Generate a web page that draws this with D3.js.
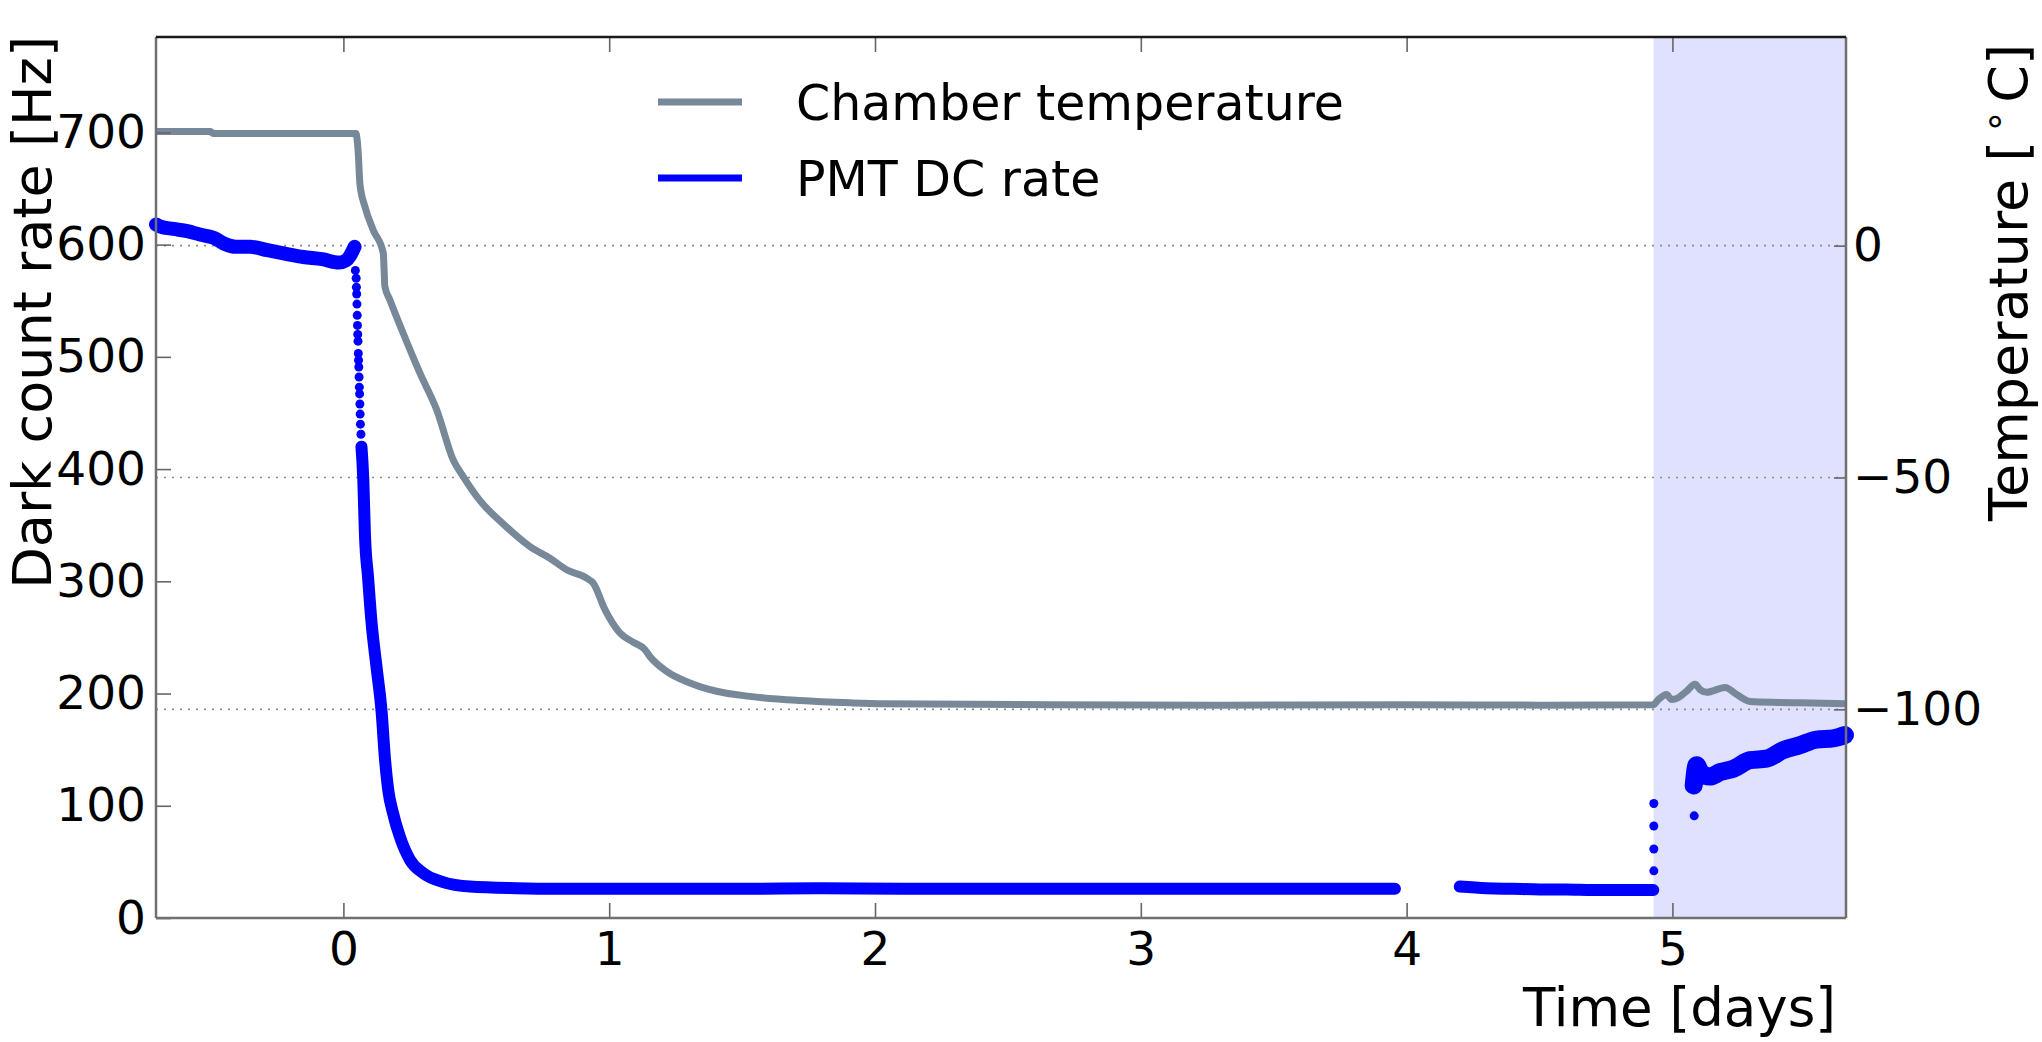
<!DOCTYPE html>
<html>
<head>
<meta charset="utf-8">
<script src="https://cdn.jsdelivr.net/npm/d3@7"></script>
<style>
body { margin: 0; background: #fff; }
text { font-family: "DejaVu Sans", sans-serif; fill: #000; }
</style>
</head>
<body>
<svg id="chart"></svg>
<script>
var viewWidth = 2042;
var viewHeight = 1042;

var margin = {top: 37, right: 196, bottom: 124, left: 156};
var width = viewWidth - margin.left - margin.right;
var height = viewHeight - margin.top - margin.bottom;

// chamber temperature (right axis), days / deg C
var tempDays = [-0.705, -0.5, -0.49, 0.047, 0.056, 0.062, 0.081, 0.112, 0.150, 0.153, 0.156, 0.175,
  0.225, 0.288, 0.351, 0.413, 0.451, 0.514, 0.601, 0.702, 0.777, 0.840, 0.915, 0.940, 0.984, 1.040,
  1.090, 1.134, 1.153, 1.216, 1.304, 1.404, 1.529, 1.717, 1.906, 2.03, 2.66, 3.3, 4.0, 4.5, 4.928,
  4.947, 4.978, 4.997, 5.022, 5.053, 5.085, 5.105, 5.129, 5.198, 5.242, 5.292, 5.40, 5.480, 5.652];
var tempC = [24.6, 24.6, 24.2, 24.2, 19.9, 13.4, 8.4, 3.4, -1.6, -5.0, -8.8, -11.7,
  -18.9, -27.5, -35.4, -46.2, -49.8, -55.0, -60.0, -64.9, -67.4, -69.9, -71.7, -72.8, -78.5, -83.5,
  -85.5, -87.1, -88.6, -91.8, -94.3, -96.1, -97.2, -98.1, -98.6, -98.8, -99.0, -99.1, -99.0, -99.1, -99.0,
  -97.9, -96.8, -97.9, -97.5, -96.1, -94.6, -95.8, -96.3, -95.3, -96.8, -98.3, -98.5, -98.6, -98.8];

// PMT dark count rate (left axis), days / Hz
var preDropDays = [-0.705, -0.688, -0.64, -0.587, -0.54, -0.487, -0.45, -0.403, -0.35, -0.285, -0.22,
  -0.151, -0.08, -0.017, 0.01, 0.025, 0.034, 0.042];
var preDropHz = [618, 616, 614, 612, 609, 606, 601, 598, 598, 595, 592, 589, 587, 584, 586, 590, 594, 598];

var dropDotDays = [0.045, 0.048, 0.049, 0.050, 0.051, 0.052, 0.053, 0.054, 0.055, 0.056, 0.057, 0.058,
  0.059, 0.060, 0.061, 0.062, 0.063, 0.064, 0.066];
var dropDotHz = [577, 570, 562, 556, 547, 537, 528, 520, 514, 503, 497, 491, 482, 473, 467, 458, 449, 440, 431];

var coolDays = [0.068, 0.075, 0.081, 0.093, 0.106, 0.125, 0.144, 0.156, 0.170, 0.185, 0.213, 0.250,
  0.300, 0.375, 0.476, 0.652, 0.8, 1.0, 1.2, 1.5, 1.8, 2.1, 2.4, 2.7, 3.0, 3.3, 3.6, 3.9, 3.956];
var coolHz = [420, 390, 342, 303, 263, 223, 183, 143, 112, 95, 72, 52,
  40, 32, 28, 26.5, 26, 26, 26, 26, 26.5, 26, 26, 26, 26, 26, 26, 26, 26];

var lateDays = [4.20, 4.3, 4.4, 4.5, 4.6, 4.7, 4.8, 4.9, 4.928];
var lateHz = [28, 26.5, 26, 25.5, 25.5, 25, 25, 25, 25];

var jumpDotDays = [4.930, 4.930, 4.930, 4.930, 5.076, 5.082];
var jumpDotHz = [42, 61.5, 82, 102, 120, 91];

var warmDays = [5.080, 5.091, 5.105, 5.141, 5.18, 5.229, 5.292, 5.354, 5.417, 5.480, 5.542, 5.605, 5.649];
var warmHz = [118, 136, 130, 126, 130, 133, 140.6, 142, 149.5, 154, 159, 160, 163];

var shadeStart = 4.929;
var xTicks = [0, 1, 2, 3, 4, 5];
var rateTicks = [0, 100, 200, 300, 400, 500, 600, 700];
var tempTicks = [0, -50, -100];

var svg = d3.select("#chart")
    .attr("width", viewWidth)
    .attr("height", viewHeight);

var g = svg.append("g")
    .attr("transform", "translate(" + margin.left + "," + margin.top + ")");

var x = d3.scaleLinear().domain([-0.705, 5.653]).range([0, width]);
var yRate = d3.scaleLinear().domain([0, 785]).range([height, 0]);
var yTemp = d3.scaleLinear().domain([-145, 45]).range([height, 0]);

// shaded period
g.append("rect")
    .attr("x", x(shadeStart))
    .attr("y", 0)
    .attr("width", x.range()[1] - x(shadeStart))
    .attr("height", height)
    .style("fill", "rgba(0,0,255,0.12)");

// dotted grid from the temperature axis
g.selectAll(".grid")
    .data(tempTicks)
  .enter().append("line")
    .attr("class", "grid")
    .attr("x1", 0)
    .attr("x2", width)
    .attr("y1", function(d) { return yTemp(d); })
    .attr("y2", function(d) { return yTemp(d); })
    .style("stroke", "#8a8a8a")
    .style("stroke-width", 1.6)
    .style("stroke-dasharray", "2,6");

function zip(a, b) { return a.map(function(d, i) { return [d, b[i]]; }); }

var rateLine = d3.line()
    .curve(d3.curveMonotoneX)
    .x(function(d) { return x(d[0]); })
    .y(function(d) { return yRate(d[1]); });

var rateSegs = [
  {pts: zip(preDropDays, preDropHz), w: 14},
  {pts: zip(coolDays, coolHz), w: 12},
  {pts: zip(lateDays, lateHz), w: 12},
  {pts: zip(warmDays, warmHz), w: 18}
];

g.selectAll(".rate")
    .data(rateSegs)
  .enter().append("path")
    .attr("class", "rate")
    .attr("d", function(d) { return rateLine(d.pts); })
    .style("fill", "none")
    .style("stroke", "#0000ff")
    .style("stroke-width", function(d) { return d.w; })
    .style("stroke-linecap", "round")
    .style("stroke-linejoin", "round");

g.selectAll(".dot")
    .data(zip(dropDotDays, dropDotHz).concat(zip(jumpDotDays, jumpDotHz)))
  .enter().append("circle")
    .attr("class", "dot")
    .attr("r", 4.5)
    .attr("cx", function(d) { return x(d[0]); })
    .attr("cy", function(d) { return yRate(d[1]); })
    .style("fill", "#0000ff");

var tempLine = d3.line()
    .curve(d3.curveMonotoneX)
    .x(function(d) { return x(d[0]); })
    .y(function(d) { return yTemp(d[1]); });

g.append("path")
    .attr("d", tempLine(zip(tempDays, tempC)))
    .style("fill", "none")
    .style("stroke", "#778899")
    .style("stroke-width", 7)
    .style("stroke-linejoin", "round");

// axes, ticks pointing inward
var tickFont = 47;

g.append("g")
    .attr("class", "axis")
    .attr("transform", "translate(0," + height + ")")
    .call(d3.axisBottom(x).tickValues(xTicks).tickFormat(d3.format("d")).tickSize(-15).tickPadding(14));

g.append("g")
    .attr("class", "axis")
    .call(d3.axisTop(x).tickValues(xTicks).tickFormat("").tickSize(-15));

g.append("g")
    .attr("class", "axis")
    .call(d3.axisLeft(yRate).tickValues(rateTicks).tickFormat(d3.format("d")).tickSize(-15).tickPadding(10));

g.append("g")
    .attr("class", "axis")
    .attr("transform", "translate(" + width + ",0)")
    .call(d3.axisRight(yTemp).tickValues(tempTicks).tickFormat(d3.format("d")).tickSize(-12).tickPadding(7));

g.selectAll(".axis .domain").remove();
g.selectAll(".axis line").style("stroke", "#666").style("stroke-width", 1.6);
g.selectAll(".axis text")
    .style("font-family", "'DejaVu Sans', sans-serif")
    .style("font-size", tickFont + "px")
    .style("fill", "#000");

// spines
g.append("line").attr("x1", 0).attr("x2", 0).attr("y1", 0).attr("y2", height)
    .style("stroke", "#707070").style("stroke-width", 2.5);
g.append("line").attr("x1", width).attr("x2", width).attr("y1", 0).attr("y2", height)
    .style("stroke", "#707070").style("stroke-width", 2.5);
g.append("line").attr("x1", 0).attr("x2", width).attr("y1", height).attr("y2", height)
    .style("stroke", "#707070").style("stroke-width", 2.5);
g.append("line").attr("x1", 0).attr("x2", width).attr("y1", 0).attr("y2", 0)
    .style("stroke", "#1a1a1a").style("stroke-width", 2.5);

// axis labels
svg.append("text")
    .attr("x", 1836)
    .attr("y", 1026)
    .style("text-anchor", "end")
    .style("font-size", "53px")
    .text("Time [days]");

svg.append("text")
    .attr("transform", "translate(51,36) rotate(-90)")
    .style("text-anchor", "end")
    .style("font-size", "54px")
    .text("Dark count rate [Hz]");

var tLabel = svg.append("text")
    .attr("transform", "translate(2027,44) rotate(-90)")
    .style("text-anchor", "end")
    .style("font-size", "54px");
tLabel.append("tspan").text("Temperature [");
tLabel.append("tspan").attr("dx", 7).attr("dy", -20).style("font-size", "38px").text("\u2218");
tLabel.append("tspan").attr("dx", 7).attr("dy", 20).text("C]");

// legend
var legend = [
  {label: "Chamber temperature", color: "#778899", y: 102},
  {label: "PMT DC rate", color: "#0000ff", y: 178}
];

var leg = svg.selectAll(".legend")
    .data(legend)
  .enter().append("g")
    .attr("class", "legend");

leg.append("line")
    .attr("x1", 658).attr("x2", 742)
    .attr("y1", function(d) { return d.y; })
    .attr("y2", function(d) { return d.y; })
    .style("stroke", function(d) { return d.color; })
    .style("stroke-width", 7);

leg.append("text")
    .attr("x", 796)
    .attr("y", function(d) { return d.y; })
    .attr("dy", "0.36em")
    .style("font-size", "49px")
    .text(function(d) { return d.label; });
</script>
</body>
</html>
